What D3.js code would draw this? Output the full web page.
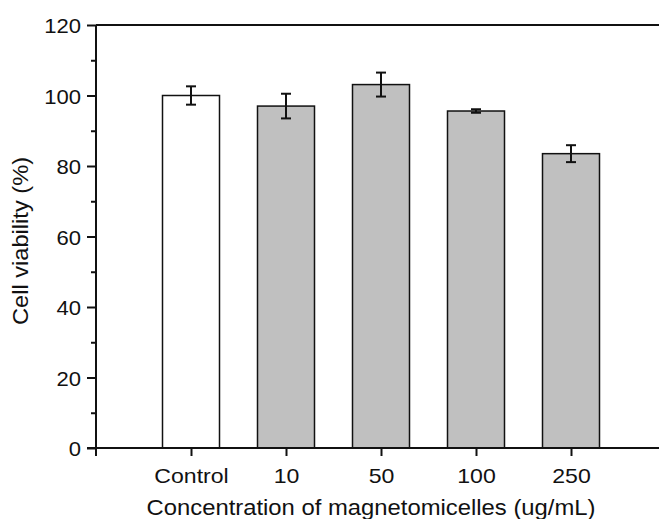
<!DOCTYPE html>
<html>
<head>
<meta charset="utf-8">
<script src="https://cdn.jsdelivr.net/npm/d3@7"></script>
<style>
  html, body { margin: 0; padding: 0; background: #fff; }
  text { font-family: "Liberation Sans", Arial, sans-serif; fill: #111; }
</style>
</head>
<body>
<svg id="chart" width="659" height="519"></svg>
<script>
const categories = ["Control", "10", "50", "100", "250"];
const viability = [100.0, 97.0, 103.1, 95.6, 83.5];
const errors = [2.6, 3.5, 3.4, 0.5, 2.4];
const yTicks = [0, 20, 40, 60, 80, 100, 120];
const yMinorTicks = [10, 30, 50, 70, 90, 110];
const fills = ["#ffffff", "#c0c0c0", "#c0c0c0", "#c0c0c0", "#c0c0c0"];

const svg = d3.select("#chart");
const m = { left: 96, top: 25, right: 666, bottom: 448 };

const x = d3.scalePoint().domain(categories).range([m.left, m.right]).padding(1);
const y = d3.scaleLinear().domain([0, 120]).range([m.bottom, m.top]);
const barW = x.step() * 0.6;

function stretch(sel, f) {
  sel.each(function() {
    const l = this.getComputedTextLength();
    d3.select(this).attr("textLength", l * f).attr("lengthAdjust", "spacingAndGlyphs");
  });
}

// bars
svg.append("g").selectAll("rect").data(categories).join("rect")
  .attr("x", d => x(d) - barW / 2)
  .attr("y", (d, i) => y(viability[i]))
  .attr("width", barW)
  .attr("height", (d, i) => y(0) - y(viability[i]))
  .attr("fill", (d, i) => fills[i])
  .attr("stroke", "#111")
  .attr("stroke-width", 1.5);

// error bars
const eb = svg.append("g").attr("stroke", "#111").attr("stroke-width", 2);
categories.forEach((c, i) => {
  const cx = x(c), hi = y(viability[i] + errors[i]), lo = y(viability[i] - errors[i]);
  eb.append("line").attr("x1", cx).attr("x2", cx).attr("y1", hi).attr("y2", lo);
  eb.append("line").attr("x1", cx - 5).attr("x2", cx + 5).attr("y1", hi).attr("y2", hi);
  eb.append("line").attr("x1", cx - 5).attr("x2", cx + 5).attr("y1", lo).attr("y2", lo);
});

// top frame line
svg.append("line").attr("x1", m.left).attr("x2", 659).attr("y1", m.top).attr("y2", m.top)
  .attr("stroke", "#111").attr("stroke-width", 2);

const tickFont = 21;

// y axis
const yAxis = svg.append("g").attr("transform", `translate(${m.left},0)`)
  .call(d3.axisLeft(y).tickValues(yTicks).tickSize(9).tickPadding(6).tickSizeOuter(0));
yAxis.select(".domain").remove();
yAxis.selectAll(".tick line").attr("stroke", "#111").attr("stroke-width", 2);
yAxis.selectAll(".tick text").attr("font-size", tickFont).style("font-family", "Liberation Sans, Arial, sans-serif")
  .attr("fill", "#111").attr("dy", "0.36em").call(stretch, 1.05);
svg.append("g").attr("transform", `translate(${m.left},0)`)
  .call(d3.axisLeft(y).tickValues(yMinorTicks).tickSize(5).tickFormat(""))
  .call(g => g.select(".domain").remove())
  .selectAll(".tick line").attr("stroke", "#111").attr("stroke-width", 2);
svg.append("line").attr("x1", m.left).attr("x2", m.left).attr("y1", m.top).attr("y2", m.bottom + 8)
  .attr("stroke", "#111").attr("stroke-width", 2);

// x axis
const xAxis = svg.append("g").attr("transform", `translate(0,${m.bottom})`)
  .call(d3.axisBottom(x).tickSize(8).tickPadding(12).tickSizeOuter(0));
xAxis.select(".domain").remove();
xAxis.selectAll(".tick line").attr("stroke", "#111").attr("stroke-width", 2);
xAxis.selectAll(".tick text").attr("font-size", tickFont).style("font-family", "Liberation Sans, Arial, sans-serif")
  .attr("fill", "#111").call(stretch, 1.1);
svg.append("line").attr("x1", m.left - 9).attr("x2", 659).attr("y1", m.bottom).attr("y2", m.bottom)
  .attr("stroke", "#111").attr("stroke-width", 2);

// axis titles
svg.append("text").attr("x", 371).attr("y", 515).attr("text-anchor", "middle")
  .attr("font-size", 22).text("Concentration of magnetomicelles (ug/mL)")
  .attr("textLength", 449).attr("lengthAdjust", "spacingAndGlyphs");
svg.append("text").attr("transform", "translate(28,241) rotate(-90)").attr("text-anchor", "middle")
  .attr("font-size", 22).text("Cell viability (%)")
  .attr("textLength", 168).attr("lengthAdjust", "spacingAndGlyphs");
</script>
</body>
</html>
